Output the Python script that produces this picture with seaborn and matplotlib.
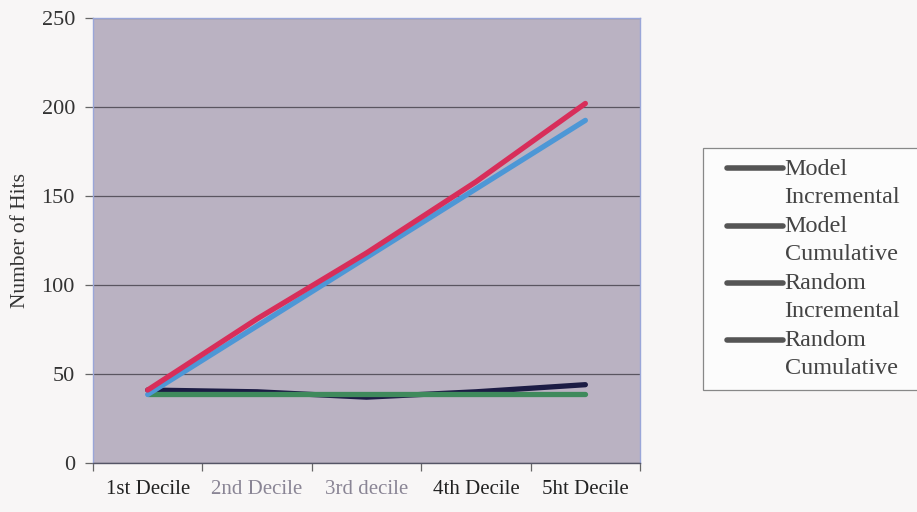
import numpy as np
import pandas as pd
import matplotlib
matplotlib.use("Agg")
import matplotlib.pyplot as plt
import seaborn as sns
from matplotlib.ticker import FixedLocator
from matplotlib.lines import Line2D
from matplotlib.patches import Rectangle
from matplotlib.legend_handler import HandlerLine2D

# Decile categories and hit counts
deciles = ["1st Decile", "2nd Decile", "3rd decile", "4th Decile", "5ht Decile"]
model_incremental = [41, 40, 37, 40, 44]
model_cumulative = [41, 81, 118, 158, 202]
random_incremental = [38.5, 38.5, 38.5, 38.5, 38.5]
random_cumulative = [38.5, 77, 115.5, 154, 192.5]

series_names = ["Model\nIncremental", "Model\nCumulative",
                "Random\nIncremental", "Random\nCumulative"]
series_values = [model_incremental, model_cumulative,
                 random_incremental, random_cumulative]
line_colors = ["#1c1c44", "#d82e5a", "#3f8a5c", "#4d97d6"]

rows = []
for name, vals in zip(series_names, series_values):
    for i, v in enumerate(vals):
        rows.append({"pos": i, "decile": deciles[i], "hits": v, "series": name})
df = pd.DataFrame(rows)

sns.set_theme(style="white")
plt.rcParams["font.family"] = ["Liberation Serif", "DejaVu Serif"]

fig = plt.figure(figsize=(9.17, 5.12), dpi=100, facecolor="#f8f6f6")
ax = fig.add_axes([0.1014, 0.0957, 0.5966, 0.8691])
ax.set_facecolor("#bab2c2")

# draw order: incremental lines underneath the cumulative ones
order = ["Model\nIncremental", "Random\nIncremental",
         "Random\nCumulative", "Model\nCumulative"]
palette = dict(zip(series_names, line_colors))
for name in order:
    sub = df[df["series"] == name]
    sns.lineplot(data=sub, x="pos", y="hits", color=palette[name], lw=3.8,
                 ax=ax, solid_capstyle="round", legend=False)

ax.set_xlim(-0.5, 4.5)
ax.set_ylim(0, 250)
ax.set_yticks([0, 50, 100, 150, 200, 250])
ax.yaxis.grid(True, color="#5a5560", lw=0.9)
ax.set_axisbelow(True)

ax.set_xticks(range(len(deciles)))
ax.set_xticklabels(deciles, fontsize=15, color="#222222")
ax.xaxis.set_minor_locator(FixedLocator(np.arange(-0.5, 5.0, 1.0)))
ax.tick_params(axis="x", which="major", length=0, pad=12)
ax.tick_params(axis="x", which="minor", length=6, width=0.9, color="#666666",
               direction="out", bottom=True)
ax.tick_params(axis="y", which="major", length=6, width=0.9, color="#666666",
               direction="out", left=True, labelsize=16, labelcolor="#333333", pad=7)
for lab in ax.get_xticklabels()[1:3]:
    lab.set_color("#8a8595")

ax.set_xlabel("")
ax.set_ylabel("Number of Hits", fontsize=15.5, color="#333333", labelpad=8)

for side in ["top", "right", "left"]:
    ax.spines[side].set_color("#9aa6d8")
    ax.spines[side].set_linewidth(1.0)
ax.spines["bottom"].set_color("#555566")
ax.spines["bottom"].set_linewidth(1.0)


class FirstLineHandler(HandlerLine2D):
    """Legend swatch placed beside the first line of a two-line label."""

    def create_artists(self, legend, orig_handle, xdescent, ydescent,
                       width, height, fontsize, trans):
        artists = super().create_artists(legend, orig_handle, xdescent, ydescent,
                                         width, height, fontsize, trans)
        shift = 0.6 * fontsize
        for a in artists:
            if isinstance(a, Line2D):
                a.set_ydata(np.asarray(a.get_ydata(), float) + shift)
        return artists


# legend box
fig.patches.append(Rectangle((0.7666, 0.238), 0.26, 0.4727,
                             transform=fig.transFigure, facecolor="#fcfcfc",
                             edgecolor="#888888", lw=0.9, zorder=0))
handles = [Line2D([0], [0], color="#555555", lw=4, solid_capstyle="round")
           for _ in series_names]
leg = fig.legend(handles, series_names, loc="upper left",
                 bbox_to_anchor=(0.7928, 0.690), frameon=False,
                 fontsize=17.4, handlelength=2.3, handletextpad=0.08,
                 labelspacing=0.33, borderpad=0.0, labelcolor="#444444",
                 borderaxespad=0.0,
                 handler_map={Line2D: FirstLineHandler()})
for t in leg.get_texts():
    t.set_linespacing(1.45)

fig.savefig("out.png", dpi=100, facecolor=fig.get_facecolor())
